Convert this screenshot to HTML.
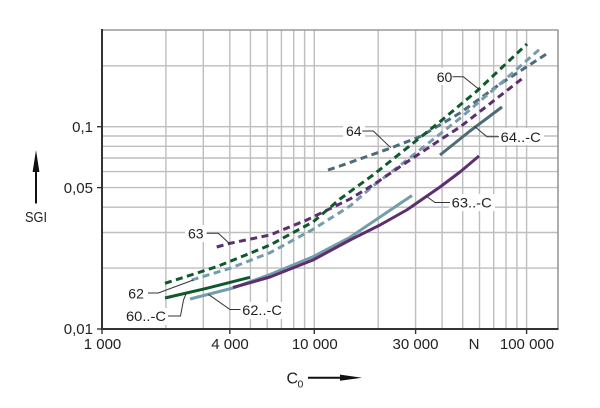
<!DOCTYPE html>
<html>
<head>
<meta charset="utf-8">
<style>
html,body{margin:0;padding:0;background:#fff;}
svg{display:block;}
text{font-family:"Liberation Sans","DejaVu Sans",sans-serif;fill:#222;}
</style>
</head>
<body>
<svg width="600" height="408" viewBox="0 0 600 408" xmlns="http://www.w3.org/2000/svg">
<rect width="600" height="408" fill="#fff"/>
<!-- grid -->
<g stroke="#bebebe" stroke-width="1.4" fill="none">
  <line x1="165.9" y1="30" x2="165.9" y2="329"/>
  <line x1="203.3" y1="30" x2="203.3" y2="329"/>
  <line x1="229.8" y1="30" x2="229.8" y2="329"/>
  <line x1="250.4" y1="30" x2="250.4" y2="329"/>
  <line x1="267.2" y1="30" x2="267.2" y2="329"/>
  <line x1="281.4" y1="30" x2="281.4" y2="329"/>
  <line x1="293.7" y1="30" x2="293.7" y2="329"/>
  <line x1="304.6" y1="30" x2="304.6" y2="329"/>
  <line x1="314.3" y1="30" x2="314.3" y2="329"/>
  <line x1="378.2" y1="30" x2="378.2" y2="329"/>
  <line x1="415.6" y1="30" x2="415.6" y2="329"/>
  <line x1="442.1" y1="30" x2="442.1" y2="329"/>
  <line x1="462.7" y1="30" x2="462.7" y2="329"/>
  <line x1="479.5" y1="30" x2="479.5" y2="329"/>
  <line x1="493.7" y1="30" x2="493.7" y2="329"/>
  <line x1="506.0" y1="30" x2="506.0" y2="329"/>
  <line x1="516.9" y1="30" x2="516.9" y2="329"/>
  <line x1="526.6" y1="30" x2="526.6" y2="329"/>
  <line x1="102" y1="65.8" x2="558" y2="65.8"/>
  <line x1="102" y1="126.7" x2="558" y2="126.7"/>
  <line x1="102" y1="136.0" x2="558" y2="136.0"/>
  <line x1="102" y1="146.3" x2="558" y2="146.3"/>
  <line x1="102" y1="158.0" x2="558" y2="158.0"/>
  <line x1="102" y1="171.6" x2="558" y2="171.6"/>
  <line x1="102" y1="187.6" x2="558" y2="187.6"/>
  <line x1="102" y1="207.2" x2="558" y2="207.2"/>
  <line x1="102" y1="232.5" x2="558" y2="232.5"/>
  <line x1="102" y1="268.1" x2="558" y2="268.1"/>
</g>
<!-- top/right border -->
<g stroke="#9a9a9a" stroke-width="1.6" fill="none">
  <line x1="102" y1="30" x2="558.5" y2="30"/>
  <line x1="558" y1="30" x2="558" y2="329"/>
</g>
<!-- axes -->
<g stroke="#333" stroke-width="2" fill="none">
  <line x1="102" y1="29" x2="102" y2="330"/>
  <line x1="101" y1="329" x2="558.5" y2="329"/>
  <line x1="97" y1="126.7" x2="102" y2="126.7" stroke-width="1.4"/>
  <line x1="97" y1="187.6" x2="102" y2="187.6" stroke-width="1.4"/>
  <line x1="97" y1="329" x2="102" y2="329" stroke-width="1.4"/>
  <line x1="102" y1="329" x2="102" y2="334" stroke-width="1.4"/>
  <line x1="229.8" y1="329" x2="229.8" y2="334" stroke-width="1.4"/>
  <line x1="314.3" y1="329" x2="314.3" y2="334" stroke-width="1.4"/>
  <line x1="415.6" y1="329" x2="415.6" y2="334" stroke-width="1.4"/>
  <line x1="526.6" y1="329" x2="526.6" y2="334" stroke-width="1.4"/>
</g>
<!-- tick labels -->
<g font-size="15">
  <text x="93" y="132" text-anchor="end">0,1</text>
  <text x="93" y="193" text-anchor="end">0,05</text>
  <text x="93" y="334" text-anchor="end">0,01</text>
  <text x="102.5" y="349" text-anchor="middle">1 000</text>
  <text x="230" y="349" text-anchor="middle">4 000</text>
  <text x="314.8" y="349" text-anchor="middle">10 000</text>
  <text x="415.5" y="349" text-anchor="middle">30 000</text>
  <text x="474" y="349" text-anchor="middle">N</text>
  <text x="527" y="349" text-anchor="middle">100 000</text>
</g>
<!-- axis titles -->
<text x="25" y="222" font-size="15" textLength="22" lengthAdjust="spacingAndGlyphs">SGI</text>
<line x1="36" y1="203.5" x2="36" y2="168" stroke="#111" stroke-width="2"/>
<polygon points="36,150 32.6,172 39.4,172" fill="#111"/>
<text x="286.5" y="383.5" font-size="16">C</text>
<text x="297.5" y="387.5" font-size="10.5">0</text>
<line x1="308" y1="377.7" x2="344" y2="377.7" stroke="#111" stroke-width="2"/>
<polygon points="362,377.7 340,374.6 340,380.8" fill="#111"/>

<!-- series: solids -->
<g fill="none" stroke-width="3" stroke-linecap="butt" stroke-linejoin="round">
  <polyline stroke="#759cad" points="190,299 233,288 270,274.5 313,256.7 350,237.3 383,215 412,195.5"/>
  <polyline stroke="#5d2f6e" points="233,287.5 270,277 313,260 350,240 380,225 406.7,210 440,187 460,172 479,156"/>
  <polyline stroke="#0e5a2c" points="165,298 206.7,288.3 250,277.3"/>
  <polyline stroke="#4e6b7b" points="440,155 470,131 502,107"/>
</g>
<!-- series: dashed -->
<g fill="none" stroke-width="3" stroke-dasharray="7 4.5" stroke-linejoin="round">
  <polyline stroke="#4e6b7b" points="328,170 340,166 390,148.3 420,136.7 460,113 500,84 548,53"/>
  <polyline stroke="#759cad" points="191.7,280 230,268.3 270,252.7 313,229.3 350,206 373,186 407,160 440,134 460,118.3 500,84 541.7,47.3"/>
  <polyline stroke="#5d2f6e" points="216.7,247 230,243.3 270,235 306.7,220 350,199 373,185 407,162 440,140 460,127 523,78"/>
  <polyline stroke="#0e5a2c" points="165,283.3 216.7,266.7 250,253.3 270,245 313,222 340,199 373,175 407,148 440,121.7 460,105 477,91 527,44"/>
</g>

<!-- labels -->
<g fill="#fff">
  <rect x="434" y="68" width="21" height="17"/>
  <rect x="343" y="122" width="22" height="17"/>
  <rect x="498" y="128" width="46" height="17"/>
  <rect x="449" y="194" width="46" height="17"/>
  <rect x="185" y="225" width="22" height="17"/>
  <rect x="125" y="285" width="23" height="17"/>
  <rect x="123" y="308" width="46" height="17"/>
  <rect x="239" y="302" width="46" height="17"/>
</g>
<g fill="none" stroke="#333" stroke-width="1">
  <polyline points="452.5,76.7 463.3,76.7 479.3,89.5"/>
  <polyline points="362.3,131 373.3,131 390.7,147.7"/>
  <polyline points="474,126 487,136.7 499,136.7"/>
  <polyline points="426,196 435,202.5 450,202.5"/>
  <polyline points="206.5,233.3 218.3,233.3 230,244"/>
  <polyline points="148,293 158.3,293 193.3,280"/>
  <polyline points="168,316 180.5,316 183.5,300 186,294"/>
  <polyline points="208.3,294.3 230,309.5 240.5,309.5"/>
</g>
<g font-size="14">
  <text x="436.7" y="82">60</text>
  <text x="346" y="136">64</text>
  <text x="500.7" y="142" textLength="40" lengthAdjust="spacingAndGlyphs">64..-C</text>
  <text x="451.7" y="207.5" textLength="40" lengthAdjust="spacingAndGlyphs">63..-C</text>
  <text x="188" y="238.5">63</text>
  <text x="128.3" y="298.5">62</text>
  <text x="126" y="321" textLength="40" lengthAdjust="spacingAndGlyphs">60..-C</text>
  <text x="242.3" y="315" textLength="39.5" lengthAdjust="spacingAndGlyphs">62..-C</text>
</g>
</svg>
</body>
</html>
